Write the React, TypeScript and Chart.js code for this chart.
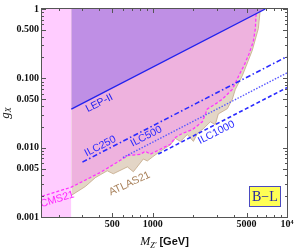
import { useEffect, useRef } from "react";
import { Chart, registerables } from "chart.js";
Chart.register(...registerables);

const massMin = 150;
const massMax = 10000;
const gMin = 0.001;
const gMax = 1;

const xTickValues = [500, 1000, 5000, 10000];
const xTickLabels = ["500", "1000", "5000", "10⁴"];
const xMinorTicks = [200, 300, 400, 600, 700, 800, 900, 2000, 3000, 4000, 6000, 7000, 8000, 9000];
const yTickValues = [0.001, 0.005, 0.01, 0.05, 0.1, 0.5, 1];
const yTickLabels = ["0.001", "0.005", "0.010", "0.050", "0.100", "0.500", "1"];
const yMinorTicks = [
  0.002, 0.003, 0.004, 0.006, 0.007, 0.008, 0.009,
  0.02, 0.03, 0.04, 0.06, 0.07, 0.08, 0.09,
  0.2, 0.3, 0.4, 0.6, 0.7, 0.8, 0.9,
];

// low-mass excluded band
const bandMass = [150, 248];
const bandG = [1, 1];

// LEP-II bound
const lepMass = [248, 6900];
const lepG = [0.0359, 1];

// CMS21 bound
const cmsMass = [150, 248, 408, 574, 658, 809, 881, 960, 1140, 1353, 1476, 1662, 1974, 2343, 2553, 2926, 3300, 3918, 4342, 4813, 5245, 5617, 5814, 5913];
const cmsG = [0.00199, 0.00269, 0.00439, 0.00657, 0.00773, 0.00799, 0.00889, 0.00806, 0.00949, 0.01117, 0.01403, 0.016, 0.0182, 0.0236, 0.0361, 0.0425, 0.05, 0.0692, 0.1057, 0.1563, 0.2309, 0.3413, 0.5213, 1.0];

// ATLAS21 bound
const atlasMass = [248, 315, 374, 408, 459, 509, 648, 718, 852, 912, 994, 1140, 1353, 1476, 1608, 1812, 2010, 2150, 2383, 2687, 2925, 3081, 3598, 3918, 4124, 4650, 5070, 5520, 6118, 6330];
const atlasG = [0.00205, 0.00275, 0.00369, 0.00407, 0.00464, 0.0042, 0.00528, 0.00449, 0.00686, 0.00643, 0.00731, 0.00889, 0.01099, 0.01359, 0.01232, 0.01548, 0.01232, 0.016, 0.0188, 0.0236, 0.02143, 0.0307, 0.0365, 0.05, 0.0692, 0.1092, 0.1668, 0.2546, 0.5213, 1.0];

// ILC prospects
const ilc250Mass = [300, 10000];
const ilc250G = [0.00619, 0.206];
const ilc500Mass = [600, 10000];
const ilc500G = [0.00719, 0.1198];
const ilc1000Mass = [1100, 10000];
const ilc1000G = [0.00809, 0.0735];

// text labels
const labelTexts = ["LEP-II", "ILC250", "ILC500", "ILC1000", "CMS21", "ATLAS21"];
const labelMass = [401, 408, 897, 2982, 195, 672];
const labelG = [0.0439, 0.01047, 0.01449, 0.01651, 0.0018, 0.00303];
const labelColors = ["#2222ee", "#2a2aff", "#2a2aff", "#2a2aff", "#ff22ff", "#a8805a"];
const labelAngles = [-27, -27, -27, -27, -17, -25];

const boxText = "B−L";
const boxMass = 6840;
const boxG = 0.00199;

const pts = (xs: number[], ys: number[]) => xs.map((x, i) => ({ x, y: ys[i] }));

export default function App() {
  const ref = useRef<HTMLCanvasElement>(null);
  useEffect(() => {
    document.body.style.margin = "0";
    const canvas = ref.current!;
    const decor = {
      id: "decor",
      afterDatasetsDraw(chart: any) {
        const { ctx, scales } = chart;
        const xs = scales.x;
        const ys = scales.y;
        ctx.save();
        labelTexts.forEach((t, i) => {
          const px = xs.getPixelForValue(labelMass[i]);
          const py = ys.getPixelForValue(labelG[i]);
          ctx.save();
          ctx.translate(px, py);
          ctx.rotate((labelAngles[i] * Math.PI) / 180);
          ctx.font = "10.5px 'Liberation Sans', Arial, sans-serif";
          ctx.fillStyle = labelColors[i];
          ctx.textAlign = "center";
          ctx.textBaseline = "middle";
          ctx.fillText(t, 0, 0);
          ctx.restore();
        });
        // B-L box
        const bx = xs.getPixelForValue(boxMass);
        const by = ys.getPixelForValue(boxG);
        const w = 31, h = 20;
        ctx.fillStyle = "#ffff55";
        ctx.fillRect(bx - w / 2, by - h / 2, w, h);
        ctx.strokeStyle = "#4a4ac0";
        ctx.lineWidth = 1;
        ctx.strokeRect(Math.round(bx - w / 2) + 0.5, Math.round(by - h / 2) + 0.5, w, h);
        ctx.fillStyle = "#2424a0";
        ctx.font = "14px 'Liberation Serif', 'Times New Roman', serif";
        ctx.textAlign = "center";
        ctx.textBaseline = "middle";
        ctx.fillText(boxText, bx, by + 1);
        ctx.restore();
      },
      afterDraw(chart: any) {
        const { ctx, chartArea: a, scales } = chart;
        const xs = scales.x;
        const ys = scales.y;
        ctx.save();
        ctx.strokeStyle = "#555";
        ctx.lineWidth = 1;
        ctx.strokeRect(a.left - 0.5, a.top - 0.5, a.right - a.left + 1, a.bottom - a.top + 1);
        ctx.beginPath();
        const xt = (v: number, len: number) => {
          const p = Math.round(xs.getPixelForValue(v)) + 0.5;
          ctx.moveTo(p, a.bottom);
          ctx.lineTo(p, a.bottom - len);
          ctx.moveTo(p, a.top);
          ctx.lineTo(p, a.top + len);
        };
        const yt = (v: number, len: number) => {
          const p = Math.round(ys.getPixelForValue(v)) + 0.5;
          ctx.moveTo(a.left, p);
          ctx.lineTo(a.left + len, p);
          ctx.moveTo(a.right, p);
          ctx.lineTo(a.right - len, p);
        };
        xTickValues.forEach((v) => xt(v, 4));
        xMinorTicks.forEach((v) => xt(v, 2));
        yTickValues.forEach((v) => yt(v, 4));
        yMinorTicks.forEach((v) => yt(v, 2));
        ctx.stroke();

        // x title
        const cx = (a.left + a.right) / 2;
        const base = 245;
        const fM = "italic 12px 'Liberation Serif', serif";
        const fZ = "italic 8px 'Liberation Serif', serif";
        const fG = "bold 11px 'Liberation Sans', Arial, sans-serif";
        ctx.font = fM;
        const wM = ctx.measureText("M").width;
        ctx.font = fZ;
        const wZ = ctx.measureText("Z′").width;
        ctx.font = fG;
        const wG = ctx.measureText(" [GeV]").width;
        let x0 = cx - (wM + wZ + wG) / 2;
        ctx.fillStyle = "#111";
        ctx.textAlign = "left";
        ctx.textBaseline = "alphabetic";
        ctx.font = fM;
        ctx.fillText("M", x0, base);
        x0 += wM;
        ctx.font = fZ;
        ctx.fillText("Z′", x0, base + 3);
        x0 += wZ;
        ctx.font = fG;
        ctx.fillText(" [GeV]", x0, base);

        // y title
        ctx.save();
        ctx.translate(9, (a.top + a.bottom) / 2);
        ctx.rotate(-Math.PI / 2);
        const fg = "italic 13px 'Liberation Serif', serif";
        const fX = "italic 8px 'Liberation Serif', serif";
        ctx.font = fg;
        const wg = ctx.measureText("g").width;
        ctx.font = fX;
        const wX = ctx.measureText("X").width;
        let y0 = -(wg + wX) / 2;
        ctx.font = fg;
        ctx.fillText("g", y0, 0);
        y0 += wg;
        ctx.font = fX;
        ctx.fillText("X", y0, 2);
        ctx.restore();
        ctx.restore();
      },
    };

    const chart = new Chart(canvas, {
      type: "line",
      data: {
        datasets: [
          {
            data: pts(ilc250Mass, ilc250G),
            borderColor: "#2a2aff",
            borderWidth: 1.6,
            borderDash: [5, 2.5, 1.5, 2.5],
            fill: false,
            order: 1,
          },
          {
            data: pts(ilc500Mass, ilc500G),
            borderColor: "#5a5aff",
            borderWidth: 1.4,
            borderDash: [1.5, 1.5],
            fill: false,
            order: 1,
          },
          {
            data: pts(ilc1000Mass, ilc1000G),
            borderColor: "#2a2aff",
            borderWidth: 1.6,
            borderDash: [4, 2.5],
            fill: false,
            order: 1,
          },
          {
            data: pts(lepMass, lepG),
            borderColor: "#2222ee",
            borderWidth: 1.3,
            backgroundColor: "#bf8fe5",
            fill: "end",
            order: 2,
          },
          {
            data: pts(cmsMass, cmsG),
            borderColor: "#ff33ff",
            borderWidth: 1.3,
            borderDash: [3, 2],
            fill: false,
            order: 3,
          },
          {
            data: pts(atlasMass, atlasG),
            borderColor: "#c4a888",
            borderWidth: 0.8,
            fill: false,
            order: 4,
          },
          {
            data: pts(bandMass, bandG),
            borderWidth: 0,
            borderColor: "rgba(0,0,0,0)",
            backgroundColor: "#ffccff",
            fill: "start",
            order: 5,
          },
          {
            data: pts(cmsMass.slice(1), cmsG.slice(1)),
            borderWidth: 0,
            borderColor: "rgba(0,0,0,0)",
            backgroundColor: "#eeb2de",
            fill: "end",
            order: 6,
          },
          {
            data: pts(atlasMass, atlasG),
            borderWidth: 0,
            borderColor: "rgba(0,0,0,0)",
            backgroundColor: "#e3d5c6",
            fill: "end",
            order: 7,
          },
        ],
      },
      options: {
        animation: false,
        responsive: false,
        layout: { padding: { left: 0, right: 12, top: 5, bottom: 0 } },
        plugins: { legend: { display: false }, tooltip: { enabled: false } },
        elements: { point: { radius: 0 }, line: { tension: 0 } },
        scales: {
          x: {
            type: "logarithmic",
            min: massMin,
            max: massMax,
            grid: { display: false, drawTicks: false },
            border: { display: false },
            afterBuildTicks: (s: any) => {
              s.ticks = xTickValues.map((v) => ({ value: v }));
            },
            afterFit: (s: any) => {
              s.height = 34;
            },
            ticks: {
              callback: (_v: any, i: number) => xTickLabels[i],
              font: { family: "'Liberation Serif', serif", size: 10, weight: "bold" },
              color: "#111",
              padding: 1,
              maxRotation: 0,
              autoSkip: false,
            },
          },
          y: {
            type: "logarithmic",
            min: gMin,
            max: gMax,
            grid: { display: false, drawTicks: false },
            border: { display: false },
            afterBuildTicks: (s: any) => {
              s.ticks = yTickValues.map((v) => ({ value: v }));
            },
            afterFit: (s: any) => {
              s.width = 42;
            },
            ticks: {
              callback: (_v: any, i: number) => yTickLabels[i],
              font: { family: "'Liberation Serif', serif", size: 10, weight: "bold" },
              color: "#111",
              padding: 3,
              autoSkip: false,
            },
          },
        },
      },
      plugins: [decor],
    } as any);
    return () => chart.destroy();
  }, []);
  return (
    <div style={{ position: "absolute", left: 0, top: 0, width: 299, height: 251 }}>
      <canvas ref={ref} width={299} height={251} style={{ display: "block", width: 299, height: 251 }} />
    </div>
  );
}
